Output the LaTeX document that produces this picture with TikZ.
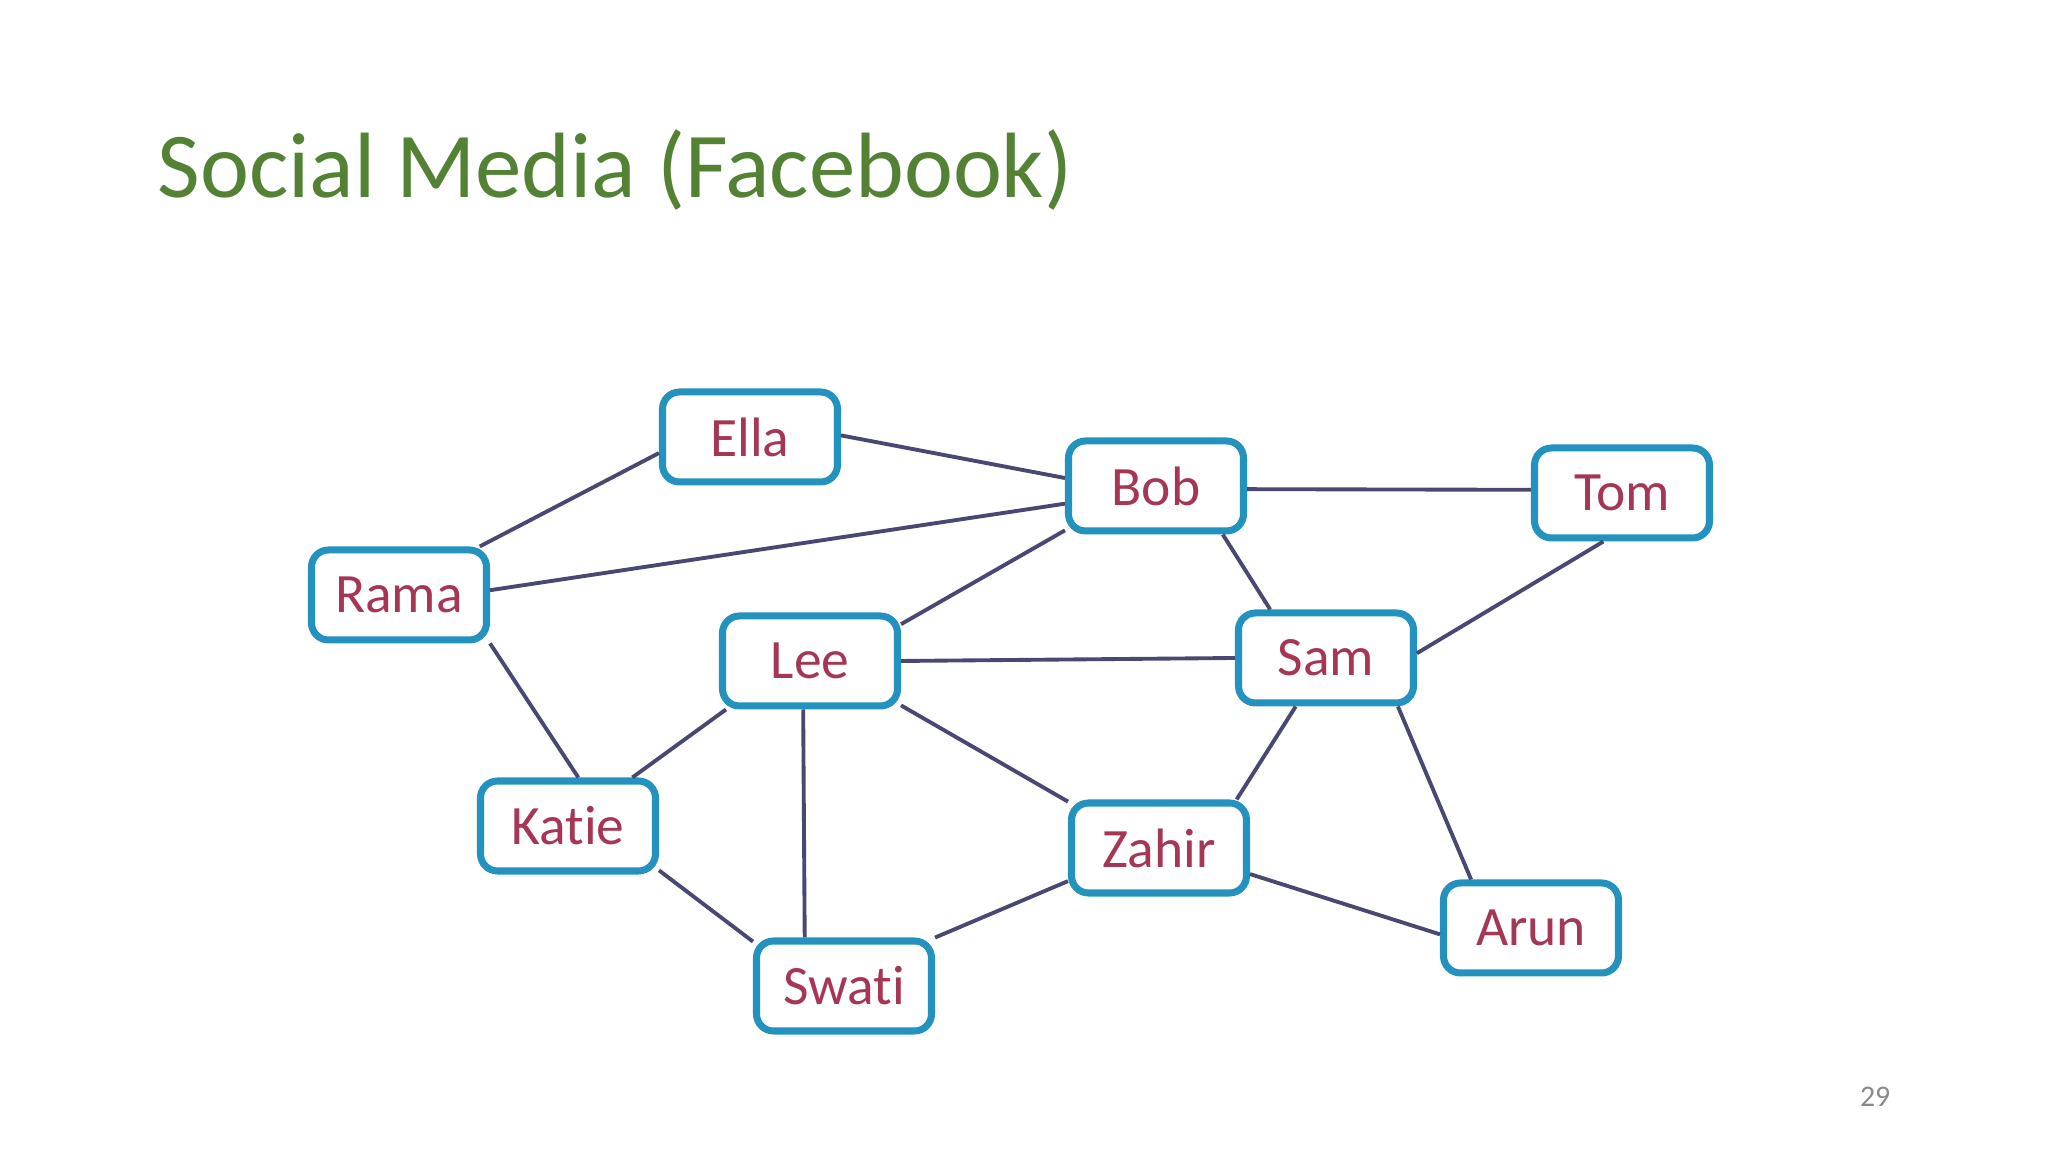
\documentclass[tikz,border=0pt]{standalone}
\usepackage{fontspec}
\setmainfont{Carlito}[Ligatures=NoCommon]
\definecolor{titlegreen}{RGB}{84,130,53}
\definecolor{boxblue}{RGB}{36,146,190}
\definecolor{namered}{RGB}{165,55,85}
\definecolor{linkblue}{RGB}{72,72,115}
\definecolor{pagegray}{RGB}{137,137,137}

\begin{document}
\begin{tikzpicture}[
  person/.style={draw=boxblue, line width=2pt, rounded corners=0.17cm, fill=white,
    minimum width=1.75cm, minimum height=0.9cm, text=namered,
    font=\fontsize{15.8}{18}\selectfont},
  link/.style={draw=linkblue, line width=1.1pt}]

  \useasboundingbox (0,0) rectangle (20.48,11.52);

  \node[anchor=base west, inner sep=0pt, text=titlegreen, font=\fontsize{26.4}{31}\selectfont] (title) at (1.57,9.54) {Social Media (Facebook)};

  \node[person] (ella)  at (7.50,7.15)  {Ella};
  \node[person] (bob)   at (11.56,6.66) {Bob};
  \node[person] (tom)   at (16.22,6.59) {Tom};
  \node[person] (rama)  at (3.99,5.57)  {Rama};
  \node[person] (lee)   at (8.10,4.91)  {Lee};
  \node[person] (sam)   at (13.26,4.94) {Sam};
  \node[person] (katie) at (5.68,3.26)  {Katie};
  \node[person] (zahir) at (11.59,3.04) {Zahir};
  \node[person] (arun)  at (15.31,2.24) {Arun};
  \node[person] (swati) at (8.44,1.66)  {Swati};

  \draw[link] (rama.31) -- (ella.190);
  \draw[link] (ella.1) -- (bob.175);
  \draw[link] (rama.3) -- (bob.191);
  \draw[link] (rama.-28) -- (katie.78);
  \draw[link] (lee.22) -- (bob.206);
  \draw[link] (bob.-2) -- (tom.178);
  \draw[link] (bob.-36) -- (sam.139);
  \draw[link] (sam.3) -- (tom.-111);
  \draw[link] (lee.east) -- (sam.west);
  \draw[link] (katie.37) -- (lee.210);
  \draw[link] (lee.-98) -- (swati.129);
  \draw[link] (lee.-26) -- (zahir.153);
  \draw[link] (katie.-26) -- (swati.154);
  \draw[link] (swati.28) -- (zahir.200);
  \draw[link] (zahir.32) -- (sam.-122);
  \draw[link] (zahir.-16) -- (arun.184);
  \draw[link] (sam.-34) -- (arun.141);

  \node[anchor=base east, inner sep=0pt, text=pagegray, font=\fontsize{8.5}{10}\selectfont] (pagenum) at (18.91,0.45) {29};
\end{tikzpicture}
\end{document}
